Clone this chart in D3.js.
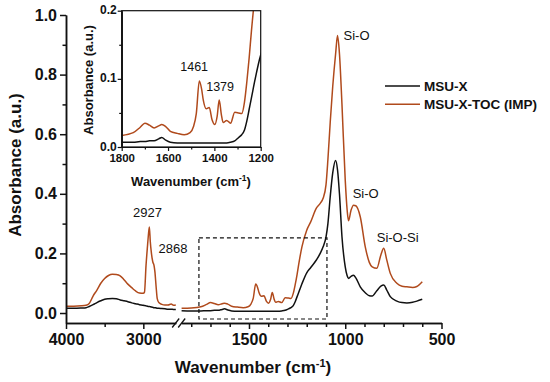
<!DOCTYPE html>
<html lang="en">
<head>
<meta charset="UTF-8">
<title>FTIR spectra MSU-X</title>
<style>
    body { margin: 0; background: #fff; }
    svg text { font-family: Arial, "Liberation Sans", sans-serif; }
</style>
</head>
<body>
<svg id="chart" width="550" height="382"></svg>
<script src="https://d3js.org/d3.v7.min.js"></script>
<script>
// wavenumber (cm-1), high region (left of the axis break)
var wnHigh = [4000, 3900, 3800, 3740, 3700, 3650, 3600, 3550, 3500, 3450, 3400, 3350, 3300, 3250, 3200, 3150, 3100, 3050, 3000, 2985, 2965, 2945, 2935, 2922, 2910, 2895, 2878, 2862, 2850, 2835, 2820, 2800, 2760, 2720, 2680, 2640, 2610, 2580];
var msuXHigh = [0.016, 0.016, 0.017, 0.018, 0.022, 0.028, 0.035, 0.041, 0.046, 0.048, 0.049, 0.048, 0.044, 0.041, 0.038, 0.034, 0.031, 0.028, 0.026, 0.025, 0.024, 0.023, 0.022, 0.022, 0.021, 0.020, 0.019, 0.018, 0.018, 0.017, 0.016, 0.016, 0.015, 0.014, 0.013, 0.013, 0.012, 0.012];
var tocHigh = [0.023, 0.023, 0.024, 0.026, 0.032, 0.057, 0.077, 0.100, 0.116, 0.126, 0.130, 0.129, 0.125, 0.112, 0.097, 0.085, 0.074, 0.067, 0.066, 0.070, 0.160, 0.228, 0.260, 0.289, 0.240, 0.200, 0.172, 0.160, 0.138, 0.090, 0.048, 0.035, 0.029, 0.027, 0.027, 0.030, 0.026, 0.027];

// wavenumber (cm-1), low region (right of the break)
var wnLow = [1850, 1800, 1750, 1720, 1700, 1680, 1660, 1640, 1627, 1610, 1590, 1560, 1530, 1505, 1490, 1478, 1465, 1455, 1448, 1435, 1422, 1410, 1398, 1388, 1379, 1370, 1362, 1347, 1330, 1312, 1295, 1282, 1270, 1260, 1250, 1240, 1225, 1200, 1180, 1150, 1130, 1115, 1100, 1090, 1078, 1065, 1050, 1040, 1030, 1017, 1000, 990, 983, 970, 957, 945, 922, 896, 875, 860, 836, 815, 800, 785, 766, 732, 705, 680, 650, 628, 600];
var msuXLow = [0.008, 0.007, 0.007, 0.008, 0.008, 0.009, 0.009, 0.012, 0.014, 0.010, 0.007, 0.006, 0.006, 0.006, 0.006, 0.006, 0.006, 0.006, 0.006, 0.006, 0.006, 0.006, 0.006, 0.006, 0.006, 0.006, 0.006, 0.006, 0.007, 0.009, 0.014, 0.018, 0.025, 0.038, 0.055, 0.072, 0.098, 0.135, 0.152, 0.178, 0.200, 0.222, 0.255, 0.300, 0.390, 0.470, 0.512, 0.480, 0.400, 0.256, 0.155, 0.125, 0.116, 0.123, 0.127, 0.118, 0.088, 0.068, 0.058, 0.057, 0.075, 0.090, 0.094, 0.078, 0.055, 0.040, 0.035, 0.034, 0.036, 0.040, 0.046];
var tocLow = [0.016, 0.017, 0.021, 0.029, 0.035, 0.032, 0.028, 0.031, 0.033, 0.030, 0.023, 0.020, 0.018, 0.021, 0.030, 0.049, 0.097, 0.085, 0.069, 0.056, 0.058, 0.040, 0.033, 0.045, 0.069, 0.048, 0.036, 0.039, 0.035, 0.051, 0.050, 0.049, 0.066, 0.095, 0.130, 0.170, 0.222, 0.278, 0.305, 0.352, 0.368, 0.385, 0.430, 0.515, 0.640, 0.760, 0.870, 0.931, 0.870, 0.700, 0.446, 0.345, 0.310, 0.345, 0.362, 0.360, 0.323, 0.222, 0.170, 0.155, 0.150, 0.195, 0.217, 0.180, 0.133, 0.100, 0.090, 0.088, 0.086, 0.089, 0.105];

var seriesNames = ["MSU-X", "MSU-X-TOC (IMP)"];
var colors = ["#111111", "#b04a1c"];

var yTicks = [0, 0.2, 0.4, 0.6, 0.8, 1.0];
var yMinor = [0.1, 0.3, 0.5, 0.7, 0.9];
var xHighTicks = [4000, 3000];
var xHighMinor = [3500];
var xLowTicks = [1500, 1000, 500];
var xLowMinor = [1800, 1700, 1600, 1400, 1300, 1200, 1100, 900, 800, 700, 600];

var peakLabels = [
    { text: "2927", wn: 2927, v: 0.289, dx: -16, dy: -10 },
    { text: "2868", wn: 2868, v: 0.160, dx: 5, dy: -12.5 },
    { text: "Si-O", wn: 1040, v: 0.931, dx: 6, dy: 4.5 },
    { text: "Si-O", wn: 985, v: 0.385, dx: 4.5, dy: 0 },
    { text: "Si-O-Si", wn: 800, v: 0.217, dx: -7, dy: -6 }
];

// inset
var insetXTicks = [1800, 1600, 1400, 1200];
var insetXMinor = [1700, 1500, 1300];
var insetYTicks = [0, 0.1, 0.2];
var insetYMinor = [0.05, 0.15];
var insetLabels = [
    { text: "1461", wn: 1461, v: 0.097, dx: -20, dy: -10 },
    { text: "1379", wn: 1379, v: 0.069, dx: -13, dy: -8.5 }
];
var zoomBox = { wn0: 1760, wn1: 1095, v0: -0.02, v1: 0.252 };

var svg = d3.select("#chart");

var y = d3.scaleLinear().domain([-0.0335, 1]).range([323, 15]);
var xHigh = d3.scaleLinear().domain([4000, 2580]).range([66, 175.8]);
var xLow = d3.scaleLinear().domain([1850, 500]).range([181.6, 441.5]);

function rows(wn, a, b) {
    return wn.map(function(w, i) { return { wn: w, v: [a[i], b[i]] }; });
}
var highData = rows(wnHigh, msuXHigh, tocHigh);
var lowData = rows(wnLow, msuXLow, tocLow);

function drawSeries(g, data, xs, ys) {
    [0, 1].forEach(function(k) {
        var line = d3.line()
            .x(function(d) { return xs(d.wn); })
            .y(function(d) { return ys(d.v[k]); })
            .curve(d3.curveMonotoneX);
        g.append("path")
            .datum(data)
            .attr("fill", "none")
            .attr("stroke", colors[k])
            .attr("stroke-width", 1.5)
            .attr("d", line);
    });
}

drawSeries(svg.append("g"), highData, xHigh, y);
drawSeries(svg.append("g"), lowData, xLow, y);

// zoom rectangle
svg.append("rect")
    .attr("x", xLow(zoomBox.wn0))
    .attr("y", y(zoomBox.v1))
    .attr("width", xLow(zoomBox.wn1) - xLow(zoomBox.wn0))
    .attr("height", y(zoomBox.v0) - y(zoomBox.v1))
    .attr("fill", "none")
    .attr("stroke", "#111")
    .attr("stroke-width", 1.2)
    .attr("stroke-dasharray", "4,3");

function styleAxis(g, size) {
    g.selectAll("path, line").attr("stroke", "#111").attr("stroke-width", 1.5);
    g.selectAll("text")
        .attr("font-size", size)
        .attr("font-weight", "bold")
        .attr("fill", "#111");
}

// y axis
var gy = svg.append("g").attr("transform", "translate(66,0)")
    .call(d3.axisLeft(y).tickValues(yTicks).tickFormat(d3.format(".1f")).tickSize(6).tickSizeOuter(0).tickPadding(3));
styleAxis(gy, 16);
var gyMinor = svg.append("g").attr("transform", "translate(66,0)")
    .call(d3.axisLeft(y).tickValues(yMinor).tickFormat("").tickSize(3.5).tickSizeOuter(0));
styleAxis(gyMinor, 16);

// x axes, two segments
function xAxis(scale, major, minor) {
    var g = svg.append("g").attr("transform", "translate(0,323)")
        .call(d3.axisBottom(scale).tickValues(major).tickFormat(d3.format("d")).tickSize(6).tickSizeOuter(0).tickPadding(5));
    styleAxis(g, 16);
    var gm = svg.append("g").attr("transform", "translate(0,323)")
        .call(d3.axisBottom(scale).tickValues(minor).tickFormat("").tickSize(4).tickSizeOuter(0));
    styleAxis(gm, 16);
}
xAxis(xHigh, xHighTicks, xHighMinor);
xAxis(xLow, xLowTicks, xLowMinor);

// break marks
var bx = (xHigh.range()[1] + xLow.range()[0]) / 2;
[-3, 3].forEach(function(o) {
    svg.append("line")
        .attr("x1", bx + o - 3.5).attr("y1", 327.5)
        .attr("x2", bx + o + 3.5).attr("y2", 318.5)
        .attr("stroke", "#111").attr("stroke-width", 1.3);
});

// axis titles
var xt = svg.append("text")
    .attr("x", 253).attr("y", 373)
    .attr("text-anchor", "middle")
    .attr("font-size", 17).attr("font-weight", "bold").attr("fill", "#111");
xt.append("tspan").text("Wavenumber (cm");
xt.append("tspan").attr("font-size", 11).attr("dy", -6).text("-1");
xt.append("tspan").attr("dy", 6).text(")");

svg.append("text")
    .attr("transform", "translate(21,165) rotate(-90)")
    .attr("text-anchor", "middle")
    .attr("font-size", 17).attr("font-weight", "bold").attr("fill", "#111")
    .text("Absorbance (a.u.)");

// peak labels
peakLabels.forEach(function(p) {
    var xs = p.wn > 2000 ? xHigh : xLow;
    svg.append("text")
        .attr("x", xs(p.wn) + p.dx)
        .attr("y", y(p.v) + p.dy)
        .attr("font-size", 13).attr("fill", "#111")
        .text(p.text);
});

// legend
seriesNames.forEach(function(name, i) {
    var ly = 86 + i * 18.3;
    svg.append("line")
        .attr("x1", 385).attr("x2", 420).attr("y1", ly).attr("y2", ly)
        .attr("stroke", colors[i]).attr("stroke-width", 1.5);
    svg.append("text")
        .attr("x", 424).attr("y", ly + 5)
        .attr("font-size", 13.5).attr("font-weight", "bold").attr("fill", "#111")
        .text(name);
});

// ---- inset ----
var ix = d3.scaleLinear().domain([1800, 1200]).range([121.7, 260.7]);
var iy = d3.scaleLinear().domain([0, 0.2]).range([147, 10.7]);

svg.append("clipPath").attr("id", "insetClip")
    .append("rect")
    .attr("x", ix.range()[0]).attr("y", iy.range()[1])
    .attr("width", ix.range()[1] - ix.range()[0])
    .attr("height", iy.range()[0] - iy.range()[1]);

var insetData = lowData.filter(function(d) { return d.wn <= 1850 && d.wn >= 1150; });
drawSeries(svg.append("g").attr("clip-path", "url(#insetClip)"), insetData, ix, iy);

svg.append("rect")
    .attr("x", ix.range()[0]).attr("y", iy.range()[1])
    .attr("width", ix.range()[1] - ix.range()[0])
    .attr("height", iy.range()[0] - iy.range()[1])
    .attr("fill", "none").attr("stroke", "#111").attr("stroke-width", 1.2);

var gix = svg.append("g").attr("transform", "translate(0," + iy.range()[0] + ")")
    .call(d3.axisBottom(ix).tickValues(insetXTicks).tickFormat(d3.format("d")).tickSize(4).tickSizeOuter(0).tickPadding(3));
styleAxis(gix, 11.5);
var gixm = svg.append("g").attr("transform", "translate(0," + iy.range()[0] + ")")
    .call(d3.axisBottom(ix).tickValues(insetXMinor).tickFormat("").tickSize(2.5).tickSizeOuter(0));
styleAxis(gixm, 12);
var giy = svg.append("g").attr("transform", "translate(" + ix.range()[0] + ",0)")
    .call(d3.axisLeft(iy).tickValues(insetYTicks).tickFormat(d3.format(".1f")).tickSize(4).tickSizeOuter(0).tickPadding(1));
styleAxis(giy, 12);
giy.selectAll(".tick text").attr("dy", "0.25em");
var giym = svg.append("g").attr("transform", "translate(" + ix.range()[0] + ",0)")
    .call(d3.axisLeft(iy).tickValues(insetYMinor).tickFormat("").tickSize(2.5).tickSizeOuter(0));
styleAxis(giym, 12);
[gix, gixm, giy, giym].forEach(function(g) { g.selectAll("path, line").attr("stroke-width", 1.2); });

var ixt = svg.append("text")
    .attr("x", 191).attr("y", 186)
    .attr("text-anchor", "middle")
    .attr("font-size", 13).attr("font-weight", "bold").attr("fill", "#111");
ixt.append("tspan").text("Wavenumber (cm");
ixt.append("tspan").attr("font-size", 8.5).attr("dy", -5).text("-1");
ixt.append("tspan").attr("dy", 5).text(")");

svg.append("text")
    .attr("transform", "translate(93,80) rotate(-90)")
    .attr("text-anchor", "middle")
    .attr("font-size", 13).attr("font-weight", "bold").attr("fill", "#111")
    .text("Absorbance (a.u.)");

insetLabels.forEach(function(p) {
    svg.append("text")
        .attr("x", ix(p.wn) + p.dx)
        .attr("y", iy(p.v) + p.dy)
        .attr("font-size", 12.5).attr("fill", "#111")
        .text(p.text);
});
</script>
</body>
</html>
